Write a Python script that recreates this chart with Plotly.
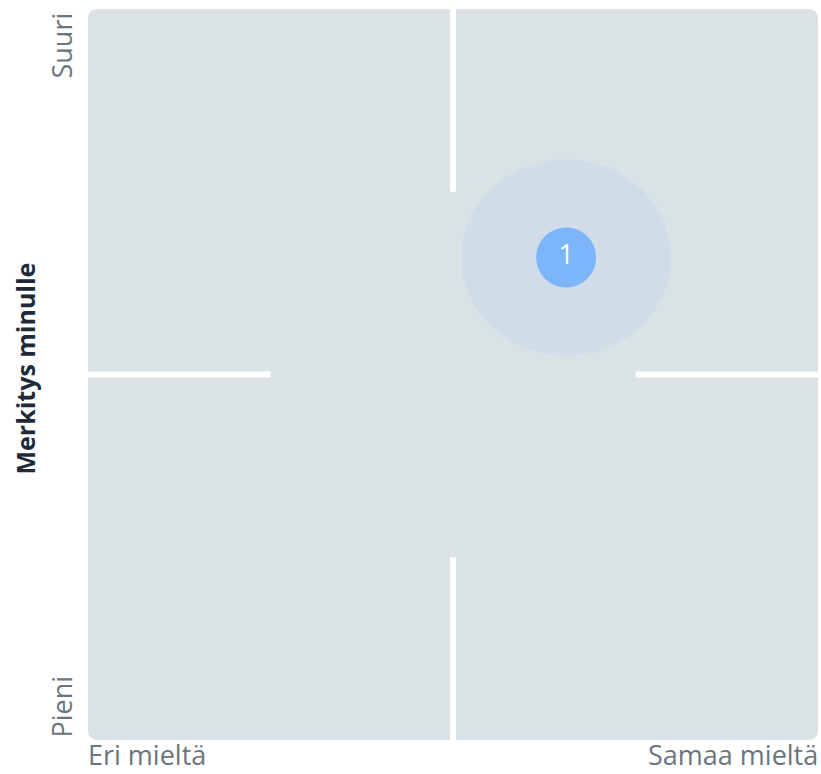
import plotly.graph_objects as go

# Statement position on the agreement / importance matrix
point_labels = ["1"]
agree_values = [65.5]        # x: Eri mieltä (0) .. Samaa mieltä (100)
importance_values = [66.0]   # y: Pieni (0) .. Suuri (100)
spread_x = [14.4]            # dispersion halo half-width
spread_y = [13.4]            # dispersion halo half-height

x_labels = ["Eri mieltä", "Samaa mieltä"]
y_labels = ["Pieni", "Suuri"]
y_title = "Merkitys minulle"

PANEL = "#dbe2e5"
HALO = "#d0dce8"
DOT = "#7cb5fa"
LABEL = "#6b7580"
TITLE = "#1e2a38"
FONT = "Open Sans"

fig = go.Figure()

# Rounded panel background (paper coords)
r = 0.014
rx = r * 731 / 730
panel_path = (
    f"M {rx},0 L {1-rx},0 Q 1,0 1,{r} L 1,{1-r} Q 1,1 {1-rx},1 "
    f"L {rx},1 Q 0,1 0,{1-r} L 0,{r} Q 0,0 {rx},0 Z"
)
shapes = [dict(type="path", xref="paper", yref="paper", path=panel_path,
               fillcolor=PANEL, line=dict(width=0), layer="below")]

# Quadrant dividers on the outer quarters
divider = dict(color="white", width=6)
for seg in [((50, 75), (50, 100)), ((50, 0), (50, 25)),
            ((0, 50), (25, 50)), ((75, 50), (100, 50))]:
    (x0, y0), (x1, y1) = seg
    shapes.append(dict(type="line", x0=x0, y0=y0, x1=x1, y1=y1,
                       xref="x", yref="y", line=divider, layer="below"))

# Dispersion halo around each point
for xv, yv, sx, sy in zip(agree_values, importance_values, spread_x, spread_y):
    shapes.append(dict(type="circle", xref="x", yref="y",
                       x0=xv - sx, x1=xv + sx, y0=yv - sy, y1=yv + sy,
                       fillcolor=HALO, line=dict(width=0), layer="below"))

fig.add_trace(go.Scatter(
    x=agree_values, y=importance_values, mode="markers+text",
    text=point_labels, textposition="middle center",
    textfont=dict(family=FONT, size=27, color="white"),
    marker=dict(size=60, color=DOT, line=dict(width=0)),
    hoverinfo="skip", showlegend=False,
))

annotations = [
    dict(text=x_labels[0], xref="paper", yref="paper", x=0, y=0,
         xanchor="left", yanchor="top", xshift=-2, yshift=6, showarrow=False,
         font=dict(family=FONT, size=27, color=LABEL)),
    dict(text=x_labels[1], xref="paper", yref="paper", x=1, y=0,
         xanchor="right", yanchor="top", xshift=2, yshift=6, showarrow=False,
         font=dict(family=FONT, size=27, color=LABEL)),
    dict(text=y_labels[0], xref="paper", yref="paper", x=0, y=0,
         xanchor="right", yanchor="bottom", xshift=-7, yshift=0,
         textangle=-90, showarrow=False,
         font=dict(family=FONT, size=27, color=LABEL)),
    dict(text=y_labels[1], xref="paper", yref="paper", x=0, y=1,
         xanchor="right", yanchor="top", xshift=-7, yshift=-2,
         textangle=-90, showarrow=False,
         font=dict(family=FONT, size=27, color=LABEL)),
    dict(text=f"<b>{y_title}</b>", xref="paper", yref="paper", x=0, y=0.5,
         xanchor="center", yanchor="middle", xshift=-64, yshift=6,
         textangle=-90, showarrow=False,
         font=dict(family=FONT, size=25, color=TITLE)),
]

axis_common = dict(range=[0, 100], showgrid=False, zeroline=False,
                   showticklabels=False, showline=False, ticks="",
                   fixedrange=True)
fig.update_layout(
    width=821, height=774,
    margin=dict(l=88, r=3, t=9, b=34),
    paper_bgcolor="white", plot_bgcolor="rgba(0,0,0,0)",
    xaxis=axis_common, yaxis=axis_common,
    shapes=shapes, annotations=annotations,
    showlegend=False,
)

fig.write_html("out.html")
